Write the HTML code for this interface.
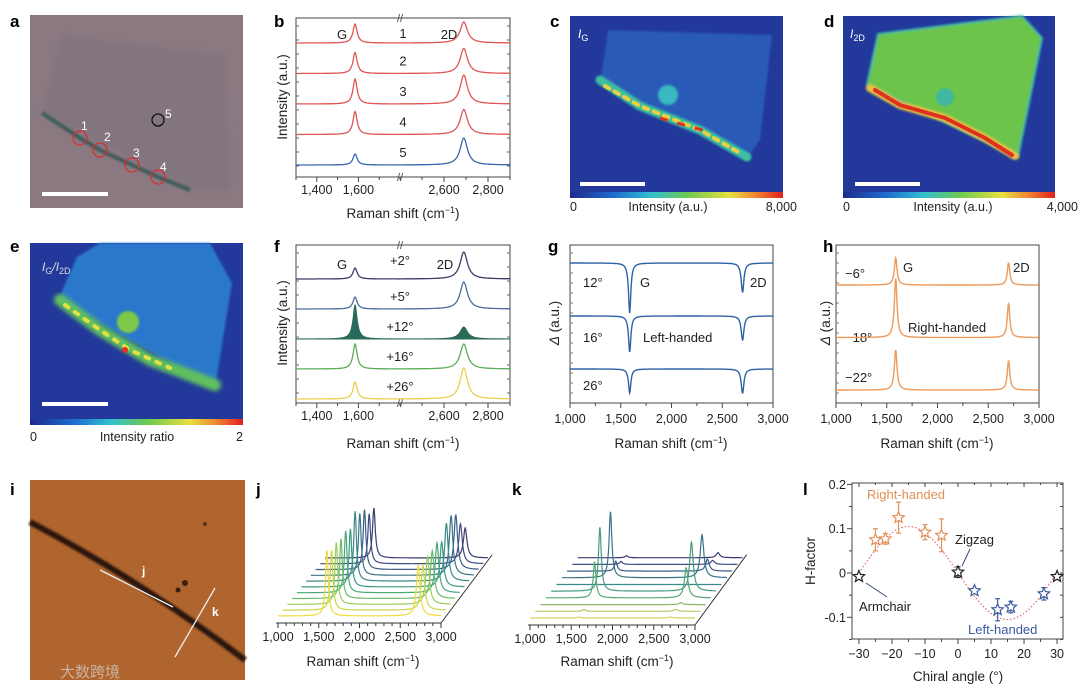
<!DOCTYPE html>
<html><head><meta charset="utf-8"><style>
html,body{margin:0;padding:0;background:#fff;}
svg text{font-family:"Liberation Sans","Noto Sans CJK SC",sans-serif;}
</style></head><body>
<svg id="fig" width="1080" height="690" viewBox="0 0 1080 690">
<defs>
<linearGradient id="jet" x1="0" x2="1" y1="0" y2="0">
<stop offset="0" stop-color="#1e2a8c"/><stop offset="0.2" stop-color="#1e6ad0"/><stop offset="0.38" stop-color="#30c0d0"/><stop offset="0.55" stop-color="#6cc850"/><stop offset="0.75" stop-color="#e8e040"/><stop offset="0.88" stop-color="#f08030"/><stop offset="1" stop-color="#e02020"/>
</linearGradient>
<filter id="blur2"><feGaussianBlur stdDeviation="2"/></filter>
<filter id="blur1"><feGaussianBlur stdDeviation="1"/></filter>
<filter id="blur4"><feGaussianBlur stdDeviation="4"/></filter>
</defs>

<!-- panel a -->
<g>
<rect x="30" y="15" width="213" height="193" fill="#8b7981"/>
<polygon points="62,35 225,55 230,190 190,190 42,113" fill="#83747e" filter="url(#blur2)"/>
<polyline points="42,113 80,138 100,150 132,165 158,177 190,190" fill="none" stroke="#3d5c5a" stroke-width="4" filter="url(#blur1)"/>
<circle cx="80" cy="138" r="7" fill="none" stroke="#d83030" stroke-width="1.3"/>
<circle cx="100" cy="150" r="7" fill="none" stroke="#d83030" stroke-width="1.3"/>
<circle cx="132" cy="165" r="7" fill="none" stroke="#d83030" stroke-width="1.3"/>
<circle cx="158" cy="177" r="7" fill="none" stroke="#d83030" stroke-width="1.3"/>
<circle cx="158" cy="120" r="6" fill="none" stroke="#111" stroke-width="1.3"/>
<g fill="#fff" font-size="12">
<text x="81" y="130">1</text><text x="104" y="141">2</text><text x="133" y="157">3</text><text x="160" y="171">4</text><text x="165" y="118">5</text></g>
<rect x="42" y="192" width="66" height="4" fill="#fff"/>
</g>
<text x="10" y="27" font-size="17" font-weight="bold">a</text>

<!-- panel c -->
<g>
<rect x="570" y="16" width="213" height="177" fill="#22389a"/>
<polygon points="608,30 772,35 760,140 747,158 600,85" fill="#2a5ab8" filter="url(#blur1)"/>
<circle cx="668" cy="95" r="10" fill="#3ab8c0" filter="url(#blur1)"/>
<polyline points="600,80 640,106 700,130 747,157" fill="none" stroke="#3cc0a0" stroke-width="9" stroke-linecap="round" filter="url(#blur1)"/>
<polyline points="605,86 640,106 700,130 740,153" fill="none" stroke="#e8d040" stroke-width="4" stroke-dasharray="5 6" stroke-linecap="round"/>
<polyline points="660,118 670,121 695,128 710,132" fill="none" stroke="#e03020" stroke-width="3" stroke-dasharray="8 10"/>
<rect x="580" y="182" width="65" height="4" fill="#fff"/>
<rect x="570" y="192" width="213" height="6" fill="url(#jet)"/>
<text x="578" y="38" font-size="12" fill="#fff" font-style="italic">I<tspan font-size="9" dy="3" font-style="normal">G</tspan></text>
</g>
<text x="550" y="27" font-size="17" font-weight="bold">c</text>
<g font-size="12.5" fill="#222"><text x="570" y="211">0</text><text x="668" y="211" text-anchor="middle">Intensity (a.u.)</text><text x="797" y="211" text-anchor="end">8,000</text></g>

<!-- panel d -->
<g>
<rect x="843" y="16" width="212" height="177" fill="#22389a"/>
<polygon points="878,34 1022,16 1042,38 1018,157 867,85" fill="#6cc44c" stroke="#40b8b0" stroke-width="2" filter="url(#blur1)"/>
<circle cx="945" cy="97" r="9" fill="#40b8a0" filter="url(#blur1)"/>
<polyline points="870,88 900,105 945,118 985,138 1015,156" fill="none" stroke="#e8c040" stroke-width="8" stroke-linecap="round" filter="url(#blur1)"/>
<polyline points="875,90 900,105 945,118 985,138 1012,155" fill="none" stroke="#e03020" stroke-width="4" stroke-linecap="round"/>
<rect x="855" y="182" width="65" height="4" fill="#fff"/>
<rect x="843" y="192" width="212" height="6" fill="url(#jet)"/>
<text x="850" y="38" font-size="12" fill="#fff" font-style="italic">I<tspan font-size="9" dy="3" font-style="normal">2D</tspan></text>
</g>
<text x="824" y="27" font-size="17" font-weight="bold">d</text>
<g font-size="12.5" fill="#222"><text x="843" y="211">0</text><text x="953" y="211" text-anchor="middle">Intensity (a.u.)</text><text x="1078" y="211" text-anchor="end">4,000</text></g>

<!-- panel e -->
<g>
<rect x="30" y="243" width="213" height="182" fill="#22389a"/>
<polygon points="77,257 100,243 210,243 232,283 215,388 58,300" fill="#2a78cc" filter="url(#blur1)"/>
<circle cx="128" cy="322" r="11" fill="#80c848" filter="url(#blur1)"/>
<polyline points="60,300 100,330 150,360 215,385" fill="none" stroke="#60c060" stroke-width="12" stroke-linecap="round" filter="url(#blur2)"/>
<polyline points="65,305 100,330 130,350 170,368" fill="none" stroke="#e0e040" stroke-width="4" stroke-dasharray="4 8" stroke-linecap="round"/>
<circle cx="125" cy="350" r="3" fill="#e03020"/>
<rect x="42" y="402" width="66" height="4" fill="#fff"/>
<rect x="30" y="419" width="213" height="6" fill="url(#jet)"/>
<text x="42" y="271" font-size="12" fill="#ddd" font-style="italic">I<tspan font-size="9" dy="3" font-style="normal">G</tspan><tspan dy="-3">/I</tspan><tspan font-size="9" dy="3" font-style="normal">2D</tspan></text>
</g>
<text x="10" y="252" font-size="17" font-weight="bold">e</text>
<g font-size="12.5" fill="#222"><text x="30" y="441">0</text><text x="137" y="441" text-anchor="middle">Intensity ratio</text><text x="243" y="441" text-anchor="end">2</text></g>

<!-- panel i -->
<g>
<rect x="30" y="480" width="215" height="200" fill="#b0652e"/>
<path d="M30,522 Q140,580 245,660" fill="none" stroke="#2a1810" stroke-width="6" filter="url(#blur1)"/>
<circle cx="185" cy="583" r="3" fill="#3a2010"/><circle cx="178" cy="590" r="2.5" fill="#3a2010"/><circle cx="205" cy="524" r="2" fill="#5a3015"/>
<line x1="100" y1="570" x2="173" y2="607" stroke="#eee" stroke-width="1.3"/>
<line x1="175" y1="657" x2="215" y2="588" stroke="#eee" stroke-width="1.3"/>
<text x="142" y="575" font-size="12" font-weight="bold" fill="#fff">j</text>
<text x="212" y="616" font-size="12" font-weight="bold" fill="#fff">k</text>
<text x="60" y="677" font-size="15" fill="#cfc6c0" opacity="0.8">大数跨境</text>
</g>
<text x="10" y="495" font-size="17" font-weight="bold">i</text>

<!-- static plot labels -->
<g font-size="17" font-weight="bold">
<text x="274" y="27">b</text>
<text x="274" y="252">f</text>
<text x="548" y="252">g</text>
<text x="823" y="252">h</text>
<text x="256" y="495">j</text>
<text x="512" y="495">k</text>
<text x="803" y="495">l</text>
</g>
<g font-size="13.5" fill="#222">
<text transform="translate(287,97) rotate(-90)" text-anchor="middle">Intensity (a.u.)</text>
<text transform="translate(287,323) rotate(-90)" text-anchor="middle">Intensity (a.u.)</text>
<text transform="translate(559,323) rotate(-90)" text-anchor="middle"><tspan font-style="italic">Δ</tspan> (a.u.)</text>
<text transform="translate(830,323) rotate(-90)" text-anchor="middle"><tspan font-style="italic">Δ</tspan> (a.u.)</text>
<text transform="translate(815,561) rotate(-90)" text-anchor="middle">H-factor</text>
<text x="403" y="218" text-anchor="middle">Raman shift (cm<tspan font-size="9" dy="-5">−1</tspan><tspan dy="5">)</tspan></text>
<text x="403" y="448" text-anchor="middle">Raman shift (cm<tspan font-size="9" dy="-5">−1</tspan><tspan dy="5">)</tspan></text>
<text x="671" y="448" text-anchor="middle">Raman shift (cm<tspan font-size="9" dy="-5">−1</tspan><tspan dy="5">)</tspan></text>
<text x="937" y="448" text-anchor="middle">Raman shift (cm<tspan font-size="9" dy="-5">−1</tspan><tspan dy="5">)</tspan></text>
<text x="363" y="666" text-anchor="middle">Raman shift (cm<tspan font-size="9" dy="-5">−1</tspan><tspan dy="5">)</tspan></text>
<text x="617" y="666" text-anchor="middle">Raman shift (cm<tspan font-size="9" dy="-5">−1</tspan><tspan dy="5">)</tspan></text>
<text x="958" y="681" text-anchor="middle">Chiral angle (°)</text>
</g>
<g font-size="13" fill="#222">
<text x="342" y="39" text-anchor="middle">G</text><text x="449" y="39" text-anchor="middle">2D</text>
<text x="342" y="269" text-anchor="middle">G</text><text x="445" y="269" text-anchor="middle">2D</text>
<text x="583" y="287">12°</text><text x="640" y="287">G</text><text x="750" y="287">2D</text>
<text x="583" y="342">16°</text><text x="643" y="342">Left-handed</text>
<text x="583" y="390">26°</text>
<text x="845" y="278">−6°</text><text x="903" y="272">G</text><text x="1013" y="272">2D</text>
<text x="845" y="342">−18°</text><text x="908" y="332">Right-handed</text>
<text x="845" y="382">−22°</text>
<text x="906" y="499" text-anchor="middle" fill="#e0905a">Right-handed</text>
<text x="955" y="544">Zigzag</text>
<text x="859" y="611">Armchair</text>
<text x="968" y="634" fill="#3a5aa0">Left-handed</text>
</g>
<g stroke="#3a4a70" stroke-width="1" fill="none">
<line x1="970" y1="549" x2="962" y2="566"/><line x1="887" y1="597" x2="866" y2="583"/>
</g>
<g id="plots"></g>
</svg>
<script>
// ---------- data ----------
const bLabels=['1','2','3','4','5'];
const bG=[19,21,25,23,11];
const b2D=[21,25,29,25,27];
const fLabels=['+2°','+5°','+12°','+16°','+26°'];
const fG=[11,12,34,25,17];
const f2D=[27,27,12,25,31];
const gAngles=['12°','16°','26°'];
const gG=[50,36,24];
const g2D=[29,24,24];
const hAngles=['−6°','−18°','−22°'];
const hG=[27,59,40];
const h2D=[22,34,29];
const jG=[66,60,62,60,62,58,70,62,60,50,50];
const j2D=[51,45,48,48,50,45,58,60,55,40,30];
const kG=[1,2,0,36,64,0,66,10,3,2];
const k2D=[1,2,2,30,49,0,43,12,4,5];
const lAngle=[-30,-25,-22,-18,-10,-5,0,5,12,16,26,30];
const lH=[-0.008,0.075,0.077,0.125,0.092,0.085,0.002,-0.04,-0.083,-0.077,-0.047,-0.008];
const lErr=[0.004,0.025,0.012,0.035,0.017,0.037,0.012,0.005,0.025,0.013,0.014,0.004];
const fitAmp=0.105;
const fitPeriod=60;
const bXTicks=[1400,1600,2600,2800];
const gXTicks=[1000,1500,2000,2500,3000];
const lXTicks=[-30,-20,-10,0,10,20,30];
const lYTicks=[0.2,0.1,0,-0.1];

// ---------- helpers ----------
const NS='http://www.w3.org/2000/svg';
const root=document.getElementById('plots');
function mk(tag,attrs,parent){const e=document.createElementNS(NS,tag);for(const k in attrs)e.setAttribute(k,attrs[k]);(parent||root).appendChild(e);return e;}
function lor(x,c,g){return g*g/((x-c)*(x-c)+g*g);}
function fmt(v){return v>=1000?Math.floor(v/1000)+','+String(v%1000).padStart(3,'0'):String(v);}

function xBrk(v){return v<=1800?296+(v-1300)*104/500:400+(v-2400)*110/500;}
function brokenPanel(name,top,bottom,labels,Gs,Ds,colors,baseBottom,spacing,fillIdx){
  const frame=mk('rect',{x:296,y:top,width:214,height:bottom-top,fill:'none',stroke:'#444','stroke-width':1});
  
  
  [top,bottom].forEach(y=>{const br=mk('text',{x:400,y:y+4,'font-size':11,'text-anchor':'middle',fill:'#444'});br.textContent='//';
    
    });
  for(let v=1300;v<=2900;v+=100){if(v>1800&&v<2400)continue;const x=xBrk(v);const major=bXTicks.includes(v);
    const t=mk('line',{x1:x,x2:x,y1:bottom,y2:bottom+(major?5:3),stroke:'#444'});
    
    }
  bXTicks.forEach(v=>{const t=mk('text',{x:xBrk(v),y:bottom+17,'font-size':12.5,'text-anchor':'middle',fill:'#222'});t.textContent=fmt(v);
    
    });
  for(let y=top+8;y<bottom;y+=14){const t=mk('line',{x1:296,x2:299,y1:y,y2:y,stroke:'#666'});
    
    
    const t2=mk('line',{x1:507,x2:510,y1:y,y2:y,stroke:'#666'});
    
    }
  const n=labels.length;
  labels.forEach((lab,i)=>{
    const base=baseBottom-(n-1-i)*spacing;
    const pts=[];
    for(let v=1300;v<=2900;v+=2){if(v>1800&&v<2400)continue;
      const y=base-Gs[i]*lor(v,1584,12)-Ds[i]*lor(v,2690,20);pts.push([xBrk(v),y]);}
    const d='M'+pts.map(p=>p[0].toFixed(1)+','+p[1].toFixed(1)).join('L');
    const attrs={d:d,fill:'none',stroke:colors[i],'stroke-width':1.3};
    if(i===fillIdx){attrs.d=d+'L510,'+base+'L296,'+base+'Z';attrs.fill=colors[i];attrs['stroke-width']=1;}
    const p=mk('path',attrs);
    
    
    const ty=(i===0)?top+20:base-8;
    const t=mk('text',{x:name==='b'?403:400,y:ty,'font-size':13,'text-anchor':'middle',fill:'#222'});t.textContent=lab;
    
    
  });
}
brokenPanel('b',18,177,bLabels,bG,b2D,['#e05555','#e05555','#e05555','#e05555','#3a66b0'],165,30.5,-1);
brokenPanel('f',245,403,fLabels,fG,f2D,['#3c3c68','#4c6c9c','#2a6a5a','#5aae5a','#e8d050'],399,30,2);

function linPanel(name,x0,labels,Gs,Ds,color,baseTop,spacing,sign,gw,dw){
  const W=203,top=245,bottom=403;const X=v=>x0+(v-1000)*W/2000;
  const fr=mk('rect',{x:x0,y:top,width:W,height:bottom-top,fill:'none',stroke:'#444'});
  
  
  for(let v=1000;v<=3000;v+=250){const major=gXTicks.includes(v);
    const t=mk('line',{x1:X(v),x2:X(v),y1:bottom,y2:bottom+(major?5:3),stroke:'#444'});
    
    }
  gXTicks.forEach(v=>{const t=mk('text',{x:X(v),y:bottom+20,'font-size':12.5,'text-anchor':'middle',fill:'#222'});t.textContent=fmt(v);
    
    });
  for(let y=top+8;y<bottom;y+=10){const t=mk('line',{x1:x0,x2:x0+3,y1:y,y2:y,stroke:'#777'});
    
    }
  labels.forEach((lab,i)=>{
    const base=baseTop+i*spacing;const pts=[];
    for(let v=1000;v<=3000;v+=3){pts.push([X(v),base+sign*(Gs[i]*lor(v,1588,gw)+Ds[i]*lor(v,2700,dw))]);}
    const p=mk('path',{d:'M'+pts.map(q=>q[0].toFixed(1)+','+q[1].toFixed(1)).join('L'),fill:'none',stroke:color,'stroke-width':1.4});
    
    
  });
}
linPanel('g',570,gAngles,gG,g2D,'#2e62a8',263,53,1,14,16);
linPanel('h',836,hAngles,hG,h2D,'#ee9a5a',285,52.5,-1,16,15);

function waterfall(name,x0,W,base0,dx,dy,Gs,Ds,colors,gPos,dPos){
  const n=Gs.length;const X=v=>x0+(v-1000)*W/2000;
  const ax=mk('line',{x1:x0-2,x2:x0+W,y1:base0+7,y2:base0+7,stroke:'#333'});
  
  
  const dg=mk('line',{x1:x0+W,y1:base0+7,x2:x0+W+(n-1)*dx+4,y2:base0-(n-1)*dy-3,stroke:'#333'});
  
  
  for(let v=1000;v<=3000;v+=100){const major=v%500===0;
    const t=mk('line',{x1:X(v),x2:X(v),y1:base0+7,y2:base0+(major?12:10),stroke:'#333'});
    
    }
  gXTicks.forEach(v=>{const t=mk('text',{x:X(v),y:base0+25,'font-size':12.5,'text-anchor':'middle',fill:'#222'});t.textContent=fmt(v);
    
    });
  for(let i=n-1;i>=0;i--){
    const base=base0-i*dy,off=i*dx;const pts=[];
    for(let v=1000;v<=3000;v+=4){pts.push([X(v)+off,base-Gs[i]*lor(v,gPos,20)-Ds[i]*lor(v,dPos,26)]);}
    const p=mk('path',{d:'M'+pts.map(q=>q[0].toFixed(1)+','+q[1].toFixed(1)).join('L'),fill:'none',stroke:colors[i],'stroke-width':1.2});
    
    
  }
}
waterfall('j',278,163,616,4.7,5.8,jG,j2D,['#f0dc3c','#c8d84a','#9ccc5a','#6cbc6a','#48aa78','#3a9a80','#3a8a86','#3a7488','#3c5e88','#3e4a80','#3c3a70'],1600,2720);
waterfall('k',530,165,618,5.3,6.7,kG,k2D,['#d8d060','#b8c860','#88b868','#58a878','#4a9a80','#3a8a86','#3a7488','#3c5e88','#3e4a80','#3c3a70'],1590,2700);

const lx=a=>852+(a+32.1)*211/63.9;
const ly=h=>573-h*443;
const lf=mk('rect',{x:852,y:483,width:211,height:156,fill:'none',stroke:'#444'});


for(let a=-30;a<=30;a+=5){const major=a%10===0;
  const t=mk('line',{x1:lx(a),x2:lx(a),y1:639,y2:639+(major?5:3),stroke:'#444'});
  
  
  const t2=mk('line',{x1:lx(a),x2:lx(a),y1:483,y2:483+(major?4:2),stroke:'#444'});
  
  }
lXTicks.forEach(a=>{const t=mk('text',{x:lx(a),y:658,'font-size':12.5,'text-anchor':'middle',fill:'#222'});t.textContent=a<0?'−'+(-a):String(a);
  
  });
for(let h=-0.15;h<=0.2001;h+=0.05){const major=Math.abs(Math.round(h*20))%2===0;
  const t=mk('line',{x1:852-(major?5:3),x2:852,y1:ly(h),y2:ly(h),stroke:'#444'});
  
  
  const t2=mk('line',{x1:1063,x2:1060,y1:ly(h),y2:ly(h),stroke:'#444'});
  
  }
lYTicks.forEach(h=>{const t=mk('text',{x:846,y:ly(h)+4.5,'font-size':12.5,'text-anchor':'end',fill:'#222'});t.textContent=h===0?'0':(h<0?'-':'')+Math.abs(h).toFixed(1);
  
  });
const fp=[];for(let a=-30;a<=30;a+=0.5){fp.push([lx(a),ly(-fitAmp*Math.sin(2*Math.PI*a/fitPeriod))]);}
const fit=mk('path',{d:'M'+fp.map(q=>q[0].toFixed(1)+','+q[1].toFixed(1)).join('L'),fill:'none',stroke:'#e06060','stroke-width':1.1,'stroke-dasharray':'1.5 2'});


function star(cx,cy,r){let d='';for(let k=0;k<10;k++){const rr=k%2?r*0.45:r;const an=-Math.PI/2+k*Math.PI/5;d+=(k?'L':'M')+(cx+rr*Math.cos(an)).toFixed(1)+','+(cy+rr*Math.sin(an)).toFixed(1);}return d+'Z';}
lAngle.forEach((a,i)=>{
  const col=(a===0||Math.abs(a)===30)?'#222':(a<0?'#e0905a':'#3a5aa0');
  const x=lx(a),y=ly(lH[i]);
  const e=mk('line',{x1:x,x2:x,y1:ly(lH[i]+lErr[i]),y2:ly(lH[i]-lErr[i]),stroke:col,'stroke-width':1.2});
  
  
  [lH[i]+lErr[i],lH[i]-lErr[i]].forEach(v=>{const c=mk('line',{x1:x-2.5,x2:x+2.5,y1:ly(v),y2:ly(v),stroke:col,'stroke-width':1.2});
    
    });
  const s=mk('path',{d:star(x,y,6),fill:'#fff',stroke:col,'stroke-width':1.2});
  
  
});
</script>
</body></html>
